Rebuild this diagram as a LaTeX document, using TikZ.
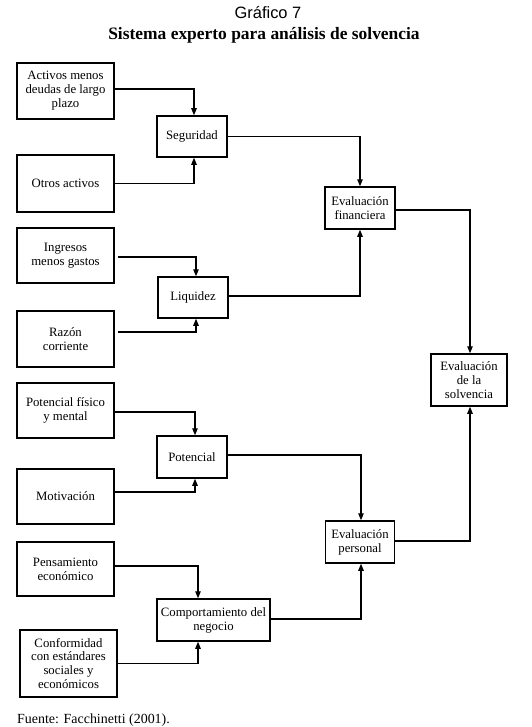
\documentclass[tikz,border=0pt]{standalone}
\usepackage{fontspec}
\setmainfont{Liberation Serif}
\newfontfamily\titlesans{Liberation Sans}
\usetikzlibrary{arrows.meta,calc}
\begin{document}
\begin{tikzpicture}[x=1bp,y=-1bp,
  box/.style={draw,line width=1.5bp,rectangle,align=center,inner sep=1bp,
    font=\fontsize{12.8}{14}\selectfont},
  arr/.style={line width=1.1bp,-{Triangle[length=7bp,width=5.5bp]}}]
\useasboundingbox[fill=white] (0,0) rectangle (532,727);
% titles
\node[anchor=base,font=\titlesans\fontsize{16.5}{18}\selectfont] (t1) at (268,19) {Gráfico 7};
\node[anchor=base,font=\bfseries\fontsize{17.5}{20}\selectfont] (t2) at (264,40) {Sistema experto para análisis de solvencia};
% left boxes
\node[box,minimum width=97bp,minimum height=56bp] (a1) at (65.5,91) {Activos menos\\deudas de largo\\plazo};
\node[box,minimum width=97bp,minimum height=57bp] (a2) at (65.5,183.5) {Otros activos};
\node[box,minimum width=97bp,minimum height=55bp] (a3) at (65.5,255.5) {Ingresos\\menos gastos};
\node[box,minimum width=97bp,minimum height=56bp] (a4) at (65.5,339) {Razón\\corriente};
\node[box,minimum width=97bp,minimum height=55bp] (a5) at (65.5,410.5) {Potencial físico\\y mental};
\node[box,minimum width=97bp,minimum height=55bp] (a6) at (65.5,496.5) {Motivación};
\node[box,minimum width=97bp,minimum height=54bp] (a7) at (65.5,569) {Pensamiento\\económico};
\node[box,minimum width=97bp,minimum height=67bp] (a8) at (68.5,663.5) {Conformidad\\con estándares\\sociales y\\económicos};
% middle boxes
\node[box,minimum width=70bp,minimum height=41bp] (seg) at (192,136.5) {Seguridad};
\node[box,minimum width=70bp,minimum height=41bp] (liq) at (193,297.5) {Liquidez};
\node[box,minimum width=70bp,minimum height=42bp] (pot) at (192,457) {Potencial};
\node[box,minimum width=113bp,minimum height=42bp] (comp) at (213.5,620) {Comportamiento del\\negocio};
% right boxes
\node[box,minimum width=70bp,minimum height=42bp] (fin) at (360,208) {Evaluación\\financiera};
\node[box,minimum width=69bp,minimum height=42bp] (per) at (360,542) {Evaluación\\personal};
\node[box,minimum width=76bp,minimum height=52bp] (sol) at (469,380) {Evaluación\\de la\\solvencia};
% footer
\node[anchor=base west,inner sep=0pt,font=\fontsize{14}{16}\selectfont] (src) at (17,723) {Fuente: Facchinetti (2001).};
% connectors
\draw[arr] ([yshift=2bp]a1.east) -| ([xshift=2bp]seg.north);
\draw[arr] (a2.east) -| ([xshift=2bp]seg.south);
\draw[arr] (seg.east) -| (fin.north);
\draw[arr] ([xshift=3bp,yshift=-1.5bp]a3.east) -| ([xshift=3bp]liq.north);
\draw[arr] ([xshift=3bp,yshift=7bp]a4.east) -| ([xshift=3bp]liq.south);
\draw[arr] ([yshift=1.5bp]liq.east) -| (fin.south);
\draw[arr] ([yshift=-2bp]fin.east) -| ([xshift=1bp]sol.north);
\draw[arr] ([yshift=-1.5bp]a5.east) -| ([xshift=3bp]pot.north);
\draw[arr] ([yshift=4.5bp]a6.east) -| ([xshift=3bp]pot.south);
\draw[arr] ([yshift=2bp]pot.east) -| ([xshift=1bp]per.north);
\draw[arr] ([yshift=1bp]per.east) -| ([xshift=1bp]sol.south);
\draw[arr] ([yshift=3bp]a7.east) -| ([xshift=-15.5bp]comp.north);
\draw[arr] (a8.east) -| ([xshift=-15.5bp]comp.south);
\draw[arr] ([yshift=1bp]comp.east) -| ([xshift=1bp]per.south);
\end{tikzpicture}
\end{document}
